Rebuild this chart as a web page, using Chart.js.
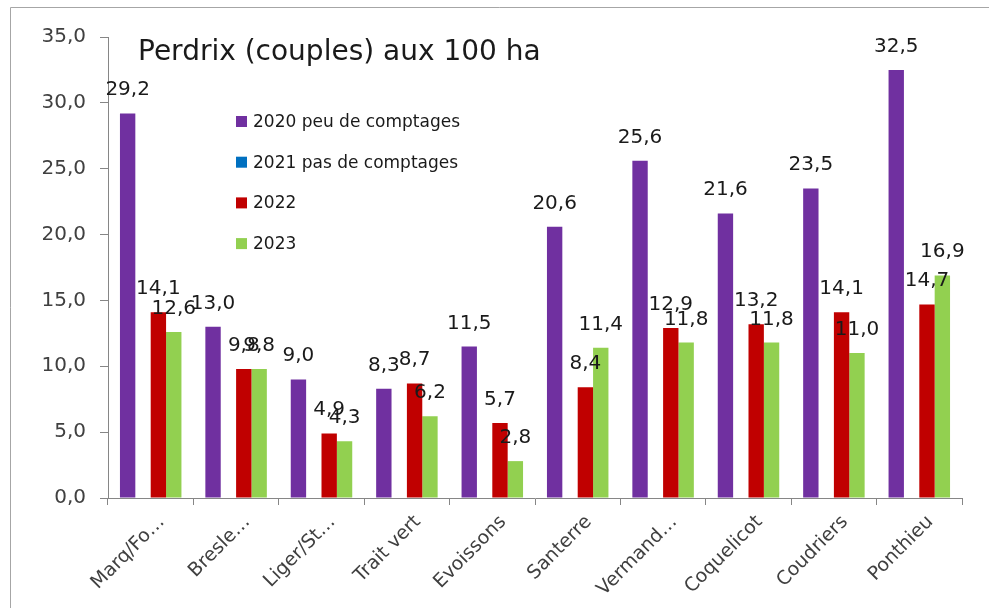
<!DOCTYPE html>
<html>
<head>
<meta charset="utf-8">
<script src="https://cdn.jsdelivr.net/npm/chart.js@4"></script>
<style>
  html, body { margin: 0; padding: 0; background: #fff; }
  #wrap { width: 989px; height: 608px; }
</style>
</head>
<body>
<div id="wrap"><canvas id="c" width="989" height="608"></canvas></div>
<script>
const categories = ['Marq/Fo…', 'Bresle…', 'Liger/St…', 'Trait vert', 'Evoissons',
                    'Santerre', 'Vermand…', 'Coquelicot', 'Coudriers', 'Ponthieu'];
const seriesNames = ['2020 peu de comptages', '2021 pas de comptages', '2022', '2023'];
const v2020 = [29.2, 13.0, 9.0, 8.3, 11.5, 20.6, 25.6, 21.6, 23.5, 32.5];
const v2021 = [null, null, null, null, null, null, null, null, null, null];
const v2022 = [14.1, 9.8, 4.9, 8.7, 5.7, 8.4, 12.9, 13.2, 14.1, 14.7];
const v2023 = [12.6, 9.8, 4.3, 6.2, 2.8, 11.4, 11.8, 11.8, 11.0, 16.9];
const colors = ['#7030A0', '#0070C0', '#C00000', '#92D050'];
const titleText = 'Perdrix (couples) aux 100 ha';

const FONT = '"DejaVu Sans", sans-serif';
const fmt = v => v.toFixed(1).replace('.', ',');

// cadre, titre, légende et étiquettes dessinés à la main
const decor = {
  id: 'decor',
  beforeDraw(chart) {
    const ctx = chart.ctx;
    ctx.save();
    ctx.strokeStyle = '#a6a6a6';
    ctx.lineWidth = 1;
    ctx.beginPath();
    ctx.moveTo(10.5, 608);
    ctx.lineTo(10.5, 7.5);
    ctx.lineTo(989, 7.5);
    ctx.stroke();
    ctx.restore();
  },
  afterDatasetsDraw(chart) {
    const ctx = chart.ctx;
    ctx.save();
    ctx.fillStyle = '#1a1a1a';
    ctx.font = '20px ' + FONT;
    ctx.textAlign = 'center';
    ctx.textBaseline = 'alphabetic';
    chart.data.datasets.forEach((ds, i) => {
      const meta = chart.getDatasetMeta(i);
      meta.data.forEach((bar, j) => {
        const v = ds.data[j];
        if (v == null) return;
        ctx.fillText(fmt(v), bar.x, bar.y - 18);
      });
    });

    // titre
    ctx.textAlign = 'left';
    ctx.font = '28px ' + FONT;
    ctx.fillText(titleText, 138, 60);

    // légende
    ctx.font = '17px ' + FONT;
    ctx.textBaseline = 'middle';
    chart.data.datasets.forEach((ds, i) => {
      const y = 121.5 + i * 40.7;
      ctx.fillStyle = ds.backgroundColor;
      ctx.fillRect(236, y - 5.5, 11, 11);
      ctx.fillStyle = '#1a1a1a';
      ctx.fillText(ds.label, 253, y + 1);
    });
    ctx.restore();
  }
};

const datasets = [v2020, v2021, v2022, v2023].map((data, i) => ({
  label: seriesNames[i],
  data,
  backgroundColor: colors[i],
  borderWidth: 0,
  categoryPercentage: 0.72,
  barPercentage: 1
}));

new Chart(document.getElementById('c'), {
  type: 'bar',
  data: { labels: categories, datasets },
  plugins: [decor],
  options: {
    responsive: false,
    animation: false,
    devicePixelRatio: 1,
    layout: { padding: { top: 37, right: 27, bottom: 0, left: 0 } },
    plugins: {
      legend: { display: false },
      tooltip: { enabled: false },
      title: { display: false }
    },
    scales: {
      x: {
        afterFit: s => { s.height = 110; },
        grid: { display: true, drawOnChartArea: false, drawTicks: true, tickLength: 7, color: '#868686', offset: true },
        border: { display: true, color: '#868686' },
        ticks: {
          color: '#404040',
          font: { family: FONT, size: 19 },
          minRotation: 45, maxRotation: 45,
          autoSkip: false,
          padding: 6,
          labelOffset: 11
        }
      },
      y: {
        min: 0, max: 35,
        afterFit: s => { s.width = 108; },
        grid: { display: true, drawOnChartArea: false, drawTicks: true, tickLength: 8, color: '#868686' },
        border: { display: true, color: '#868686' },
        ticks: {
          stepSize: 5,
          color: '#404040',
          font: { family: FONT, size: 20 },
          padding: 14,
          callback: v => fmt(v)
        }
      }
    }
  }
});
</script>
</body>
</html>
